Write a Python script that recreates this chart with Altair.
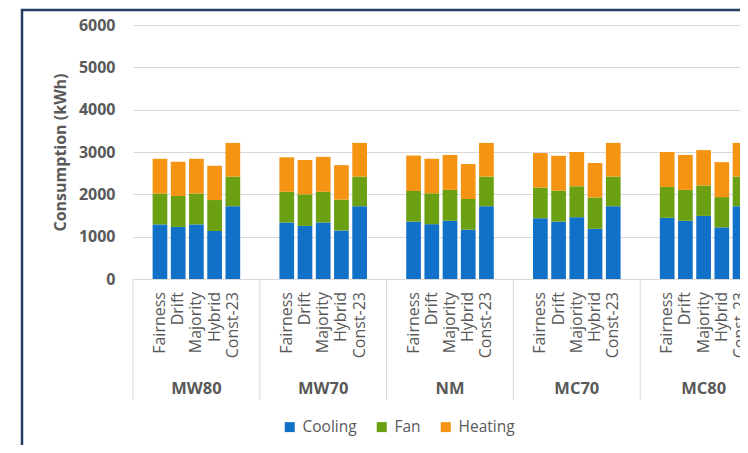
import altair as alt
import pandas as pd

groups = ["MW80", "MW70", "NM", "MC70", "MC80"]
methods = ["Fairness", "Drift", "Majority", "Hybrid", "Const-23"]
series = ["Cooling", "Fan", "Heating"]
colors = ["#1170C8", "#6AA012", "#F59313"]

# values per bar, in order MW80(5), MW70(5), NM(5), MC70(5), MC80(5)
cooling = [1290, 1230, 1290, 1135, 1720,
           1335, 1255, 1335, 1145, 1720,
           1355, 1295, 1375, 1165, 1720,
           1435, 1355, 1460, 1185, 1720,
           1445, 1375, 1490, 1220, 1720]
fan = [730, 730, 730, 730, 700,
       725, 745, 725, 730, 700,
       725, 730, 730, 725, 700,
       725, 730, 730, 740, 700,
       730, 730, 720, 715, 700]
heating = [820, 810, 820, 810, 795,
           815, 810, 825, 815, 795,
           835, 815, 825, 825, 795,
           815, 825, 810, 815, 795,
           825, 825, 835, 825, 795]
y_ticks = [0, 1000, 2000, 3000, 4000, 5000, 6000]

rows = []
lab_rows = []
for gi, g in enumerate(groups):
    for mi, m in enumerate(methods):
        i = gi * 5 + mi
        lab_rows.append({"group": g, "method": m})
        for si, (s, vals) in enumerate(zip(series, [cooling, fan, heating])):
            rows.append({"group": g, "method": m, "series": s,
                         "value": vals[i], "order": si})
df = pd.DataFrame(rows)
df_lab = pd.DataFrame(lab_rows)
df_sep = pd.DataFrame({"group": groups})
df_frame = pd.DataFrame({"k": [0]})

FONT = "Open Sans"
GRAY = "#595959"

x_axis = alt.Axis(labelAngle=0, labelFont=FONT, labelFontSize=16.5,
                  labelFontWeight="bold", labelColor=GRAY,
                  labelBaseline="middle", labelPadding=109, ticks=False,
                  domainColor="#D9D9D9", domainWidth=1, grid=False)
x_scale = alt.Scale(range=[0, 634], paddingInner=0, paddingOuter=0)
x_enc = alt.X("group:N", sort=groups, scale=x_scale, axis=x_axis, title=None)
xoff_enc = alt.XOffset("method:N", sort=methods,
                       scale=alt.Scale(paddingInner=0.04, paddingOuter=1))

bars = alt.Chart(df).mark_bar(width=14.7).encode(
    x=x_enc,
    xOffset=xoff_enc,
    y=alt.Y("value:Q", stack="zero",
            scale=alt.Scale(domain=[0, 6000], nice=False),
            axis=alt.Axis(values=y_ticks, format="d", labelFont=FONT,
                          labelFontSize=16, labelFontWeight="bold",
                          labelColor=GRAY, ticks=False, domain=False,
                          labelPadding=18, gridColor="#D9D9D9",
                          titleFont=FONT, titleFontSize=16,
                          titleFontWeight="bold", titleColor=GRAY,
                          titleX=-73, titleY=127, titleAngle=270,
                          titleAlign="center", titleBaseline="middle"),
            title="Consumption (kWh)"),
    color=alt.Color("series:N", sort=series,
                    scale=alt.Scale(domain=series, range=colors),
                    legend=alt.Legend(orient="none", legendX=149, legendY=394,
                                      direction="horizontal", title=None,
                                      symbolType="square", symbolSize=100,
                                      symbolStrokeWidth=0,
                                      labelFont=FONT, labelFontSize=15.5,
                                      labelColor=GRAY, labelOffset=5,
                                      columnPadding=17, padding=0)),
    order=alt.Order("order:Q", sort="ascending"),
)

labels = alt.Chart(df_lab).mark_text(
    angle=270, align="right", baseline="middle", font=FONT,
    fontSize=16, color=GRAY
).encode(
    x=x_enc,
    xOffset=xoff_enc,
    y=alt.value(267),
    text="method:N",
)

seps = alt.Chart(df_sep).mark_rule(color="#D9D9D9", strokeWidth=1).encode(
    x=alt.X("group:N", sort=groups, scale=x_scale, axis=x_axis, title=None,
            bandPosition=0),
    y=alt.value(254),
    y2=alt.value(375),
)

frame = alt.Chart(df_frame).mark_rect(
    fill="transparent", stroke="#243F60", strokeWidth=2.5
).encode(
    x=alt.value(-111), x2=alt.value(700),
    y=alt.value(-15), y2=alt.value(445),
)

chart = alt.layer(frame, bars, labels, seps).properties(
    width=607, height=254,
    padding={"left": 125, "top": 17, "right": 0, "bottom": 166},
    autosize=alt.AutoSizeParams(type="none"),
    background="white",
).configure_view(stroke=None)

chart.save("out.html", embed_options={"renderer": "svg", "actions": False})
